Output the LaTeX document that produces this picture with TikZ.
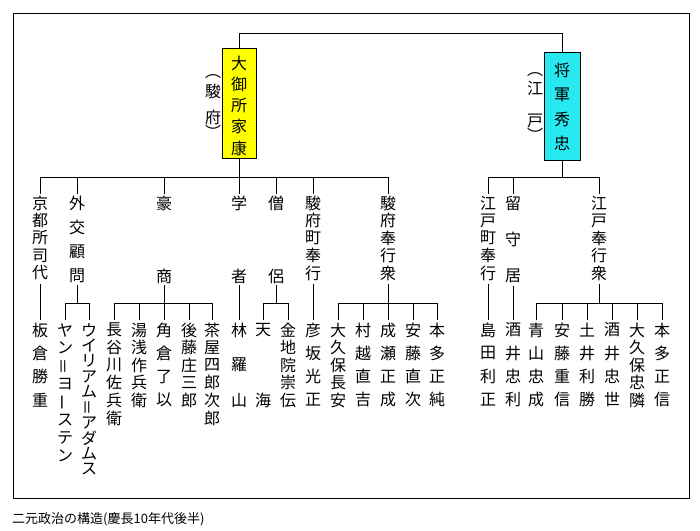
\documentclass[tikz,border=0pt]{standalone}
\usepackage{fontspec}
\setmainfont{Noto Sans CJK JP}
\usepackage{graphicx}
\definecolor{boxy}{RGB}{255,255,0}
\definecolor{boxc}{RGB}{40,232,240}
\newcommand\vt[4]{\foreach \c [count=\i from 0] in {#4}{\node[ch] at (#1,{#2+\i*#3}) {\c};}}
\newcommand\vbar{\rotatebox{90}{ー}}
\newcommand\veq{\rotatebox{90}{＝}}
\begin{document}
\begin{tikzpicture}[x=1pt,y=-1pt,
  ch/.style={inner sep=0pt,font=\fontsize{16}{16}\selectfont},
  ln/.style={line width=0.9pt}]
\useasboundingbox (0,0) rectangle (700,530);
\fill[white] (0,0) rectangle (700,530);
\draw[line width=1pt] (13,13) rectangle (689,498);
\node[font=\fontsize{13}{13}\selectfont,anchor=west,inner sep=0pt] (cap) at (12,519) {二元政治の構造(慶長10年代後半)};
% boxes
\node[draw,fill=boxy,minimum width=34pt,minimum height=110pt,anchor=north,inner sep=0pt] (ieyasu) at (239,48) {};
\node[draw,fill=boxc,minimum width=36pt,minimum height=108pt,anchor=north,inner sep=0pt] (hide) at (562,52) {};
\vt{239}{63}{21.3}{大,御,所,家,康}
\vt{562}{70}{24.5}{将,軍,秀,忠}
\vt{213}{77}{14}{︵,駿}
\vt{213}{117}{15}{府,︶}
\vt{535}{75}{13}{︵,江}
\vt{535}{121}{14}{戸,︶}
\draw[ln] (ieyasu.north) -- (239,33) -- (562,33) -- (hide.north);
% left tree
\draw[ln] (ieyasu.south) -- (239,177);
\draw[ln] (40,177) -- (388,177);
\foreach \x in {40,77,164,276,313,388} \draw[ln] (\x,177) -- (\x,194);
\draw[ln] (239,177) -- (239,194);
\vt{40}{203}{17.5}{京,都,所,司,代}
\vt{77}{203}{24.3}{外,交,顧,問}
\vt{164}{203}{73}{豪,商}
\vt{239}{203}{73}{学,者}
\vt{276}{203}{73}{僧,侶}
\vt{313}{203}{17.5}{駿,府,町,奉,行}
\vt{388}{203}{17.5}{駿,府,奉,行,衆}
\draw[ln] (40,284) -- (40,320);
\draw[ln] (77,285) -- (77,303); \draw[ln] (65,320) -- (65,303) -- (89,303) -- (89,320);
\draw[ln] (164,285) -- (164,320); \draw[ln] (114,320) -- (114,303) -- (212,303) -- (212,320);
\foreach \x in {139,189} \draw[ln] (\x,303) -- (\x,320);
\draw[ln] (239,285) -- (239,320);
\draw[ln] (276,285) -- (276,303); \draw[ln] (263,320) -- (263,303) -- (288,303) -- (288,320);
\draw[ln] (313,284) -- (313,320);
\draw[ln] (388,284) -- (388,320); \draw[ln] (338,320) -- (338,303) -- (437,303) -- (437,320);
\foreach \x in {363,413} \draw[ln] (\x,303) -- (\x,320);
\vt{40}{330}{23.3}{板,倉,勝,重}
\vt{65}{330}{18}{ヤ,ン,\veq,ヨ,\vbar,ス,テ,ン}
\vt{89}{330}{15.5}{ウ,イ,リ,ア,ム,\veq,ア,ダ,ム,ス}
\vt{114}{330}{17.6}{長,谷,川,佐,兵,衛}
\vt{139}{330}{17.5}{湯,浅,作,兵,衛}
\vt{164}{330}{23.3}{角,倉,了,以}
\vt{189}{330}{17.5}{後,藤,庄,三,郎}
\vt{212}{330}{17.6}{茶,屋,四,郎,次,郎}
\vt{239}{330}{35}{林,羅,山}
\vt{263}{330}{70}{天,海}
\vt{288}{330}{17.5}{金,地,院,崇,伝}
\vt{313}{330}{23.3}{彦,坂,光,正}
\vt{338}{330}{17.5}{大,久,保,長,安}
\vt{363}{330}{23.3}{村,越,直,吉}
\vt{388}{330}{23.3}{成,瀬,正,成}
\vt{413}{330}{23.3}{安,藤,直,次}
\vt{437}{330}{23.3}{本,多,正,純}
% right tree
\draw[ln] (hide.south) -- (562,177);
\draw[ln] (488,177) -- (599,177);
\foreach \x in {488,513,599} \draw[ln] (\x,177) -- (\x,194);
\vt{488}{203}{17.5}{江,戸,町,奉,行}
\vt{513}{203}{36.5}{留,守,居}
\vt{599}{203}{17.5}{江,戸,奉,行,衆}
\draw[ln] (488,284) -- (488,320);
\draw[ln] (513,286) -- (513,320);
\draw[ln] (599,284) -- (599,303); \draw[ln] (536,320) -- (536,303) -- (662,303) -- (662,320);
\foreach \x in {562,587,612,637} \draw[ln] (\x,303) -- (\x,320);
\vt{488}{330}{23.3}{島,田,利,正}
\vt{513}{330}{23.3}{酒,井,忠,利}
\vt{536}{330}{23.3}{青,山,忠,成}
\vt{562}{330}{23.3}{安,藤,重,信}
\vt{587}{330}{23.3}{土,井,利,勝}
\vt{612}{330}{23.3}{酒,井,忠,世}
\vt{637}{330}{17.5}{大,久,保,忠,隣}
\vt{662}{330}{23.3}{本,多,正,信}
\end{tikzpicture}
\end{document}
